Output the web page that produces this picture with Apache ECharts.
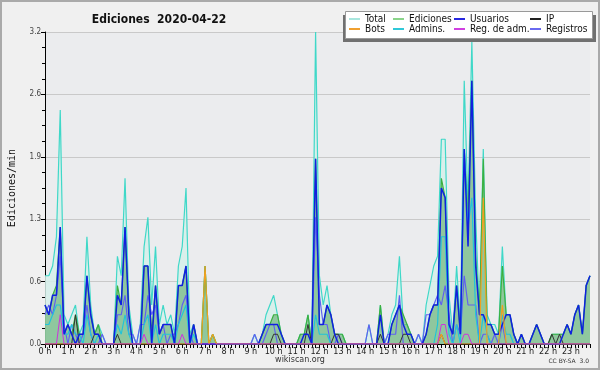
<!DOCTYPE html>
<html><head><meta charset="utf-8">
<script src="https://cdn.jsdelivr.net/npm/echarts@6/dist/echarts.min.js"></script>
<style>html,body{margin:0;padding:0;background:#f0f0f0}#c{width:600px;height:370px}</style>
</head><body><div id="c"></div>
<script>
// 10-minute slots, 0:00 .. 23:50 (edits per minute)
const hourTicks = ['0 h','1 h','2 h','3 h','4 h','5 h','6 h','7 h','8 h','9 h','10 h','11 h','12 h','13 h','14 h','15 h','16 h','17 h','18 h','19 h','20 h','21 h','22 h','23 h'];
const yTicks = [0, 0.64, 1.28, 1.92, 2.56, 3.2];

const total = [
0.7,0.7,0.8,1.1,2.4,0.3, 0.2,0.3,0.4,0.1,0.2,1.1, 0.4,0.1,0.2,0.1,0,0,
0,0.9,0.7,1.7,0.4,0.1, 0,0.2,1.0,1.3,0.4,1.0, 0.2,0.4,0.2,0.3,0.1,0.8,
1.0,1.6,0.1,0.2,0,0, 0.8,0,0.1,0,0,0, 0,0,0,0,0,0,
0,0.1,0,0.1,0.3,0.4, 0.5,0.3,0.1,0,0,0, 0,0.1,0.1,0.3,0,3.2,
0.7,0.4,0.6,0.3,0.1,0.1, 0.1,0,0,0,0,0, 0,0.2,0,0,0.4,0,
0.1,0.3,0.4,0.9,0.2,0.2, 0.1,0,0.1,0,0.4,0.6, 0.8,0.9,2.1,2.1,0.5,0.1,
0.8,0.2,2.7,1.4,3.1,1.3, 0.3,2.0,0.3,0.2,0.2,0.1, 1.0,0.3,0.3,0.1,0,0.1,
0,0,0.1,0.2,0.1,0, 0,0.1,0.1,0.1,0.1,0.2, 0.1,0.3,0.4,0.1,0.6,0.7];

const ediciones = [
0.4,0.3,0.5,0.6,1.2,0.1, 0.2,0.1,0.3,0.1,0.1,0.7, 0.3,0.1,0.2,0,0,0,
0,0.6,0.4,1.2,0.3,0, 0,0,0.8,0.8,0.1,0.6, 0.1,0.2,0.2,0.2,0,0.6,
0.6,0.8,0,0.2,0,0, 0.8,0,0.1,0,0,0, 0,0,0,0,0,0,
0,0,0,0.1,0.2,0.2, 0.3,0.3,0.1,0,0,0, 0,0.1,0.1,0.3,0,1.9,
0.2,0.2,0.4,0.3,0.1,0.1, 0.1,0,0,0,0,0, 0,0,0,0,0.4,0,
0,0.2,0.3,0.4,0.3,0.2, 0.1,0,0,0,0.1,0.3, 0.4,0.4,1.7,1.5,0.2,0.1,
0.6,0.1,2.0,1.3,2.7,0.9, 0.3,1.9,0.2,0.2,0.1,0.1, 0.8,0.3,0.3,0.1,0,0.1,
0,0,0.1,0.2,0.1,0, 0,0.1,0.1,0.1,0.1,0.2, 0.1,0.3,0.4,0.1,0.6,0.7];

const usuarios = [
0.4,0.3,0.5,0.5,1.2,0.1, 0.2,0.1,0,0.1,0.1,0.7, 0.3,0.1,0.1,0,0,0,
0,0.5,0.4,1.2,0.3,0, 0,0,0.8,0.8,0,0.6, 0.1,0.2,0.2,0.2,0,0.6,
0.6,0.8,0,0.2,0,0, 0,0,0,0,0,0, 0,0,0,0,0,0,
0,0,0,0.1,0.2,0.2, 0.2,0.2,0.1,0,0,0, 0,0,0.1,0.1,0,1.9,
0.2,0.2,0.4,0.3,0.1,0, 0,0,0,0,0,0, 0,0,0,0,0.3,0,
0,0.2,0.3,0.4,0.2,0.1, 0.1,0,0,0,0.1,0.3, 0.4,0.4,1.6,1.5,0.2,0.1,
0.6,0.1,2.0,1.0,2.7,0.8, 0.3,0.3,0.2,0.2,0.1,0.1, 0.2,0.3,0.3,0.1,0,0.1,
0,0,0.1,0.2,0.1,0, 0,0,0,0,0.1,0.2, 0.1,0.3,0.4,0.1,0.6,0.7];

const ip = [
0,0,0,0,0,0, 0,0,0.3,0,0,0, 0,0.1,0.1,0,0,0,
0,0.1,0,0,0,0, 0,0,0,0,0,0, 0,0,0,0,0,0,
0,0,0,0,0,0, 0,0,0,0,0,0, 0,0,0,0,0,0,
0,0,0,0,0,0, 0.1,0.1,0,0,0,0, 0,0,0,0.2,0,0,
0,0,0,0,0.1,0.1, 0,0,0,0,0,0, 0,0,0,0,0.1,0,
0,0,0,0,0.1,0.1, 0,0,0,0,0,0, 0,0,0.1,0,0,0,
0,0,0,0,0,0, 0,0,0,0,0,0, 0,0,0,0,0,0,
0,0,0,0,0,0, 0,0.1,0,0.1,0,0, 0,0,0,0,0,0];

const bots = [
0,0,0,0,0,0, 0,0,0,0,0,0, 0,0,0,0,0,0,
0,0,0,0,0,0, 0,0,0,0,0,0, 0,0,0,0,0,0,
0,0,0,0,0,0, 0.8,0,0.1,0,0,0, 0,0,0,0,0,0,
0,0,0,0,0,0, 0,0,0,0,0,0, 0,0,0,0,0,0,
0,0,0,0,0,0, 0,0,0,0,0,0, 0,0,0,0,0,0,
0,0,0,0,0,0, 0,0,0,0,0,0, 0,0,0.1,0,0,0,
0,0,0,0,0,0, 0,1.5,0,0,0,0, 0.4,0,0,0,0,0,
0,0,0,0,0,0, 0,0,0,0,0,0, 0,0,0,0,0,0];

const admins = [
0.2,0.2,0.3,0.4,0.4,0.1, 0.1,0.2,0.1,0.1,0,0.3, 0.1,0,0.1,0,0,0,
0,0.2,0.1,0.3,0.1,0, 0,0,0.2,0.3,0,0.2, 0,0.1,0.1,0.1,0,0.2,
0.3,0.4,0,0.1,0,0, 0,0,0,0,0,0, 0,0,0,0,0,0,
0,0,0,0,0,0, 0,0,0,0,0,0, 0,0,0,0,0,0.3,
0.1,0.1,0.1,0,0,0, 0,0,0,0,0,0, 0,0,0,0,0,0,
0,0,0,0,0,0, 0,0,0,0,0,0, 0,0.2,1.1,1.1,0.1,0,
0.2,0,2.0,1.2,1.5,0.3, 0,0.3,0.1,0,0,0, 0.3,0.1,0.1,0,0,0,
0,0,0,0,0,0, 0,0,0,0,0,0, 0,0,0,0,0,0];

const regAdm = [
0,0,0,0,0.3,0, 0,0,0,0,0,0, 0,0,0,0,0,0,
0,0,0,0,0,0, 0,0,0.1,0,0,0, 0,0,0,0,0,0,
0.1,0,0,0,0,0, 0,0,0,0,0,0, 0,0,0,0,0,0,
0,0,0,0,0,0, 0,0,0,0,0,0, 0,0,0,0,0,0,
0,0,0,0,0,0, 0,0,0,0,0,0, 0,0,0,0,0,0,
0,0,0,0,0,0, 0,0,0,0,0,0, 0,0,0.2,0.2,0,0,
0,0,0.1,0.1,0,0, 0,0,0,0,0,0, 0,0,0,0,0,0,
0,0,0,0,0,0, 0,0,0,0,0,0, 0,0,0,0,0,0];

const registros = [
0.3,0.4,0.3,0.5,0.9,0.2, 0,0.2,0.1,0,0.1,0.4, 0.1,0,0,0.1,0,0,
0,0.3,0.3,0.5,0.1,0.1, 0,0.2,0.2,0.5,0.3,0.4, 0.1,0.2,0,0.1,0.1,0.2,
0.4,0.5,0.1,0,0,0, 0,0,0,0,0,0, 0,0,0,0,0,0,
0,0.1,0,0,0.1,0.2, 0.2,0,0,0,0,0, 0,0,0,0,0,1.3,
0.5,0.2,0.2,0,0,0.1, 0,0,0,0,0,0, 0,0.2,0,0,0,0,
0.1,0.1,0.1,0.5,0,0, 0,0,0.1,0,0.3,0.3, 0.4,0.5,0.4,0.6,0.3,0,
0.2,0.1,0.7,0.4,0.4,0.4, 0,0.1,0.1,0,0.1,0, 0.2,0,0,0,0,0,
0,0,0,0,0,0, 0,0,0,0,0,0, 0,0,0,0,0,0];

const slots = [];
for (let h = 0; h < 24; h++) for (let m = 0; m < 60; m += 10) slots.push(h + ':' + (m < 10 ? '0' : '') + m);

const F = 'DejaVu Sans Condensed, DejaVu Sans, sans-serif';
function line(name, data, color, width, z, area) {
  const s = {name, type:'line', data, symbol:'none', showSymbol:false, z,
    lineStyle:{color, width}, itemStyle:{color}, emphasis:{disabled:true}, animation:false};
  if (area) s.areaStyle = area;
  return s;
}
const legendItems = [
  ['Total', '#a8e6de', 349, 14], ['Ediciones', '#8ad48a', 393, 14], ['Usuarios', '#2828e0', 454, 14], ['IP', '#222', 530, 14],
  ['Bots', '#f0a030', 349, 24], ['Admins.', '#30c8d8', 393, 24], ['Reg. de adm.', '#d040e0', 454, 24], ['Registros', '#6a6af0', 530, 24]
];
const chart = echarts.init(document.getElementById('c'), null, {renderer:'canvas'});
chart.setOption({
  backgroundColor:'#f0f0f0',
  animation:false,
  title:{text:'Ediciones  2020-04-22', left:154, top:9, textAlign:'center',
    textStyle:{fontFamily:F, fontWeight:'bold', fontSize:12, color:'#111'}},
  legend: legendItems.map(([n,c,l,t]) => ({data:[{name:n, itemStyle:{color:c}}], left:l, top:t, padding:0,
    itemWidth:11, itemHeight:2, icon:'rect', selectedMode:false, z:110,
    textStyle:{fontFamily:F, fontSize:10, color:'#111', lineHeight:10}})),
  grid:{left:45, right:10, top:32, bottom:26, show:true, backgroundColor:'#ebecee', borderWidth:0,
    containLabel:false, outerBoundsMode:'none'},
  xAxis:{type:'category', data:slots, boundaryGap:false,
    axisLine:{lineStyle:{color:'#000', width:1}},
    axisTick:{interval:0, length:4, lineStyle:{color:'#000'}},
    axisLabel:{interval:5, margin:3, fontFamily:F, fontSize:9, color:'#222',
      formatter:(v, i) => hourTicks[Math.round(i/6)]},
    splitLine:{show:false}},
  yAxis:{type:'value', min:yTicks[0], max:yTicks[yTicks.length-1], interval:0.64,
    name:'Ediciones/min', nameLocation:'middle', nameGap:28, nameRotate:90,
    nameTextStyle:{fontFamily:'DejaVu Sans Mono, monospace', fontSize:10, color:'#111'},
    axisLine:{show:true, lineStyle:{color:'#000'}},
    axisTick:{show:true, length:4, lineStyle:{color:'#000'}},
    minorTick:{show:true, splitNumber:4, length:3, lineStyle:{color:'#000'}},
    axisLabel:{margin:4, fontFamily:F, fontSize:8, color:'#444', formatter:v => v.toFixed(1)},
    splitLine:{lineStyle:{color:'#c9c9c9', width:1}}},
  series:[
    line('Total', total, '#3fd8c8', 1.2, 2, {color:'#d6f0ea', opacity:0.85}),
    line('Ediciones', ediciones, '#3cb040', 1.2, 3, {color:'#6fb77e', opacity:0.7}),
    line('Registros', registros, '#6060f0', 1.2, 4),
    line('Admins.', admins, '#22c4d8', 1.2, 5),
    line('IP', ip, '#333', 1, 6),
    line('Usuarios', usuarios, '#1020e0', 1.5, 7),
    line('Bots', bots, '#f0a020', 1.2, 8),
    line('Reg. de adm.', regAdm, '#cc33dd', 1, 9)
  ],
  graphic:[
    {type:'rect', z:100, shape:{x:343, y:15, width:253, height:27}, style:{fill:'#707070'}},
    {type:'rect', z:101, shape:{x:345.5, y:11.5, width:247, height:27}, style:{fill:'#fff', stroke:'#999', lineWidth:1}},
    {type:'text', z:100, left:'center', top:356, style:{text:'wikiscan.org', font:'8px DejaVu Sans', fill:'#333'}},
    {type:'text', z:100, right:11, top:358, style:{text:'CC BY-SA  3.0', font:'6px DejaVu Sans', fill:'#333'}},
    {type:'rect', z:120, shape:{x:1, y:1, width:598, height:368}, style:{fill:'none', stroke:'#aaa', lineWidth:2}}
  ]
});
</script></body></html>
